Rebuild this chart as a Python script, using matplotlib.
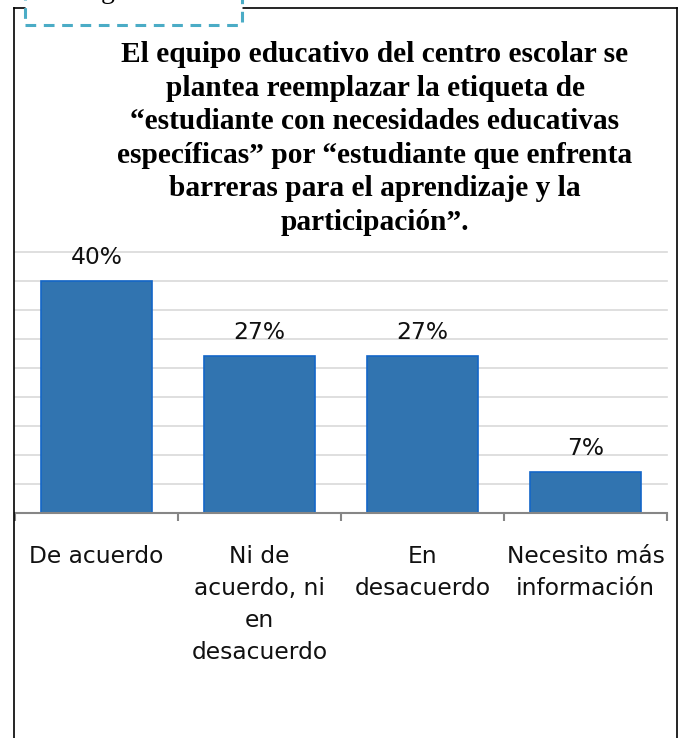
import matplotlib
matplotlib.use("Agg")
import matplotlib.pyplot as plt
from matplotlib.lines import Line2D
from matplotlib.patches import Rectangle

categories = ["De acuerdo", "Ni de\nacuerdo, ni\nen\ndesacuerdo", "En\ndesacuerdo", "Necesito más\ninformación"]
values = [40, 27, 27, 7]
labels = ["40%", "27%", "27%", "7%"]
title_lines = [
    "El equipo educativo del centro escolar se",
    "plantea reemplazar la etiqueta de",
    "“estudiante con necesidades educativas",
    "específicas” por “estudiante que enfrenta",
    "barreras para el aprendizaje y la",
    "participación”.",
]

W, H = 685, 738
fig = plt.figure(figsize=(W / 100, H / 100), dpi=100)
fig.patch.set_facecolor("white")

def fx(x):
    return x / W

def fy(y):
    return 1 - y / H

# axes in pixel coordinates
ax_l, ax_r, ax_b, ax_t = 15, 667, 513, 252
ax = fig.add_axes([fx(ax_l), fy(ax_b), (ax_r - ax_l) / W, (ax_b - ax_t) / H])
x = list(range(len(categories)))
ax.bar(x, values, width=0.675, color="#3174B0", edgecolor="#1366C8", linewidth=1.2, zorder=3)
ax.set_xlim(-0.5, len(categories) - 0.5)
ax.set_ylim(0, 45)
ax.set_yticks(range(5, 46, 5))
ax.yaxis.grid(True, color="#D9D9D9", linewidth=1.2, zorder=0)
for gl in ax.get_ygridlines():
    gl.set_clip_on(False)
ax.tick_params(axis="y", length=0, labelleft=False)
for s in ["left", "right", "top"]:
    ax.spines[s].set_visible(False)
ax.spines["bottom"].set_color("#868686")
ax.spines["bottom"].set_linewidth(1.5)
ax.spines["bottom"].set_zorder(4)

ax.set_xticks(x)
ax.set_xticklabels(categories, fontsize=16.8, family="DejaVu Sans", linespacing=1.5, color="#111111")
ax.tick_params(axis="x", which="major", length=0, pad=23)
ax.set_xticks([i - 0.5 for i in range(len(categories) + 1)], minor=True)
ax.tick_params(axis="x", which="minor", length=6, width=1.5, color="#868686", direction="out")

for xi, v, lab in zip(x, values, labels):
    ax.annotate(lab, (xi, v), xytext=(0, 9), textcoords="offset points",
                ha="center", va="bottom", fontsize=16.8, family="DejaVu Sans", color="#111111")

# title lines
y0, dy = 55, 33.4
for i, line in enumerate(title_lines):
    fig.text(fx(375), fy(y0 + i * dy), line, ha="center", va="center",
             fontsize=21.2, fontweight="bold", family="Liberation Serif", color="black")

# outer frame
fig.add_artist(Line2D([fx(14), fx(14)], [fy(8), fy(740)], color="black", linewidth=1.2))
fig.add_artist(Line2D([fx(14), fx(677)], [fy(8), fy(8)], color="black", linewidth=1.2))
fig.add_artist(Line2D([fx(677), fx(677)], [fy(8), fy(740)], color="black", linewidth=1.2))

# dashed label box at top-left
box = Rectangle((fx(25), fy(25)), fx(242) - fx(25), fy(-5) - fy(25),
                transform=fig.transFigure, facecolor="white", edgecolor="#4BACC6",
                linewidth=2.2, linestyle=(0, (3.5, 2.5)), zorder=10)
fig.add_artist(box)
fig.text(fx(101), fy(-2), "g", ha="left", va="baseline", fontsize=20,
         family="Liberation Serif", color="black", zorder=11)

fig.savefig("out.png", dpi=100)
